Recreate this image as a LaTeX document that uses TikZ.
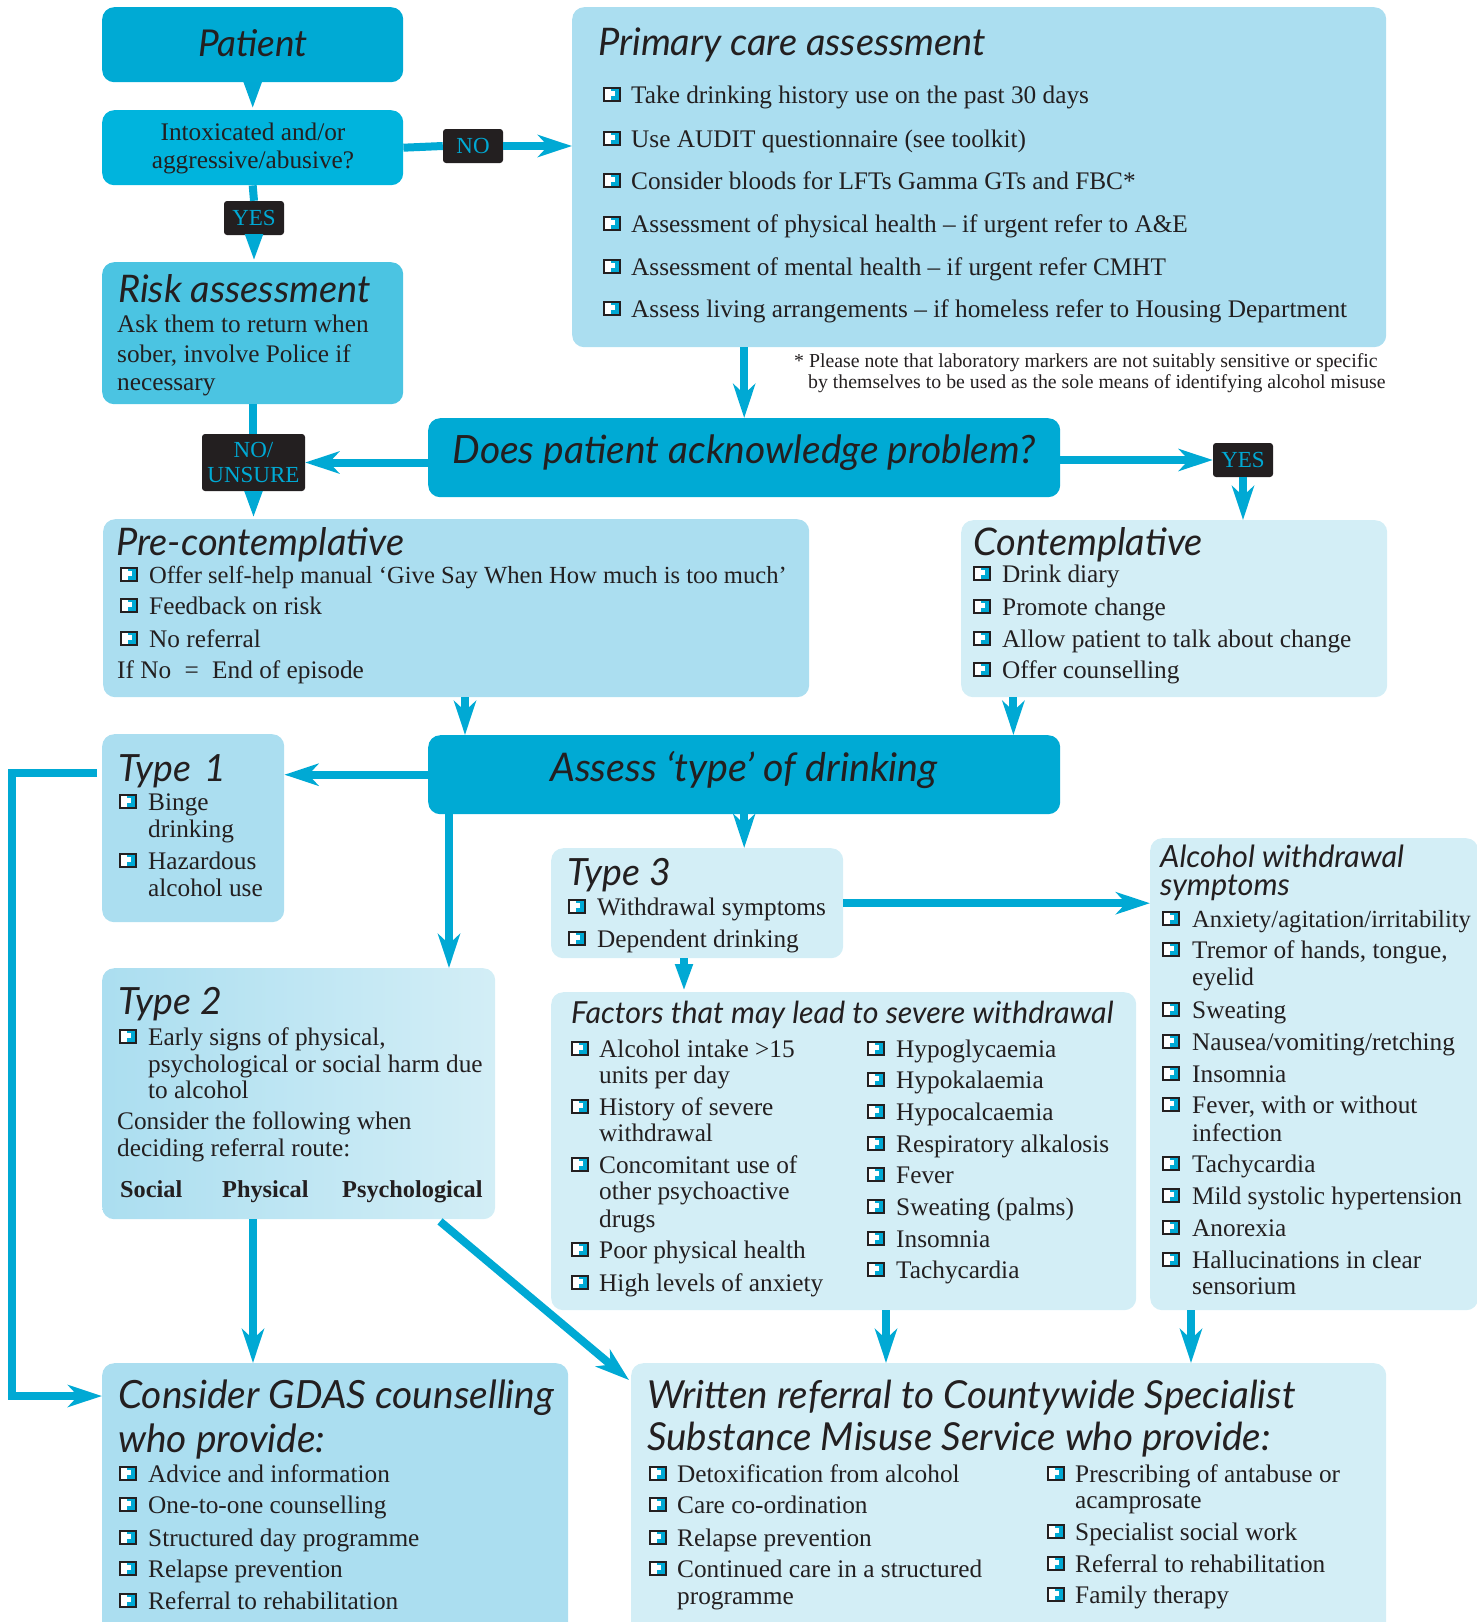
\documentclass[tikz,border=0pt]{standalone}
\usepackage{fontspec}
\setmainfont{Liberation Serif}
\newfontfamily\hdfont{Lato}
\usetikzlibrary{arrows.meta,calc}
\definecolor{deep}{HTML}{00AAD4}
\definecolor{mid}{HTML}{00B4DD}
\definecolor{riskc}{HTML}{4BC4E2}
\definecolor{light}{HTML}{ABDEF0}
\definecolor{pale}{HTML}{D3EEF6}
\definecolor{acol}{HTML}{00A9D4}
\definecolor{ink}{HTML}{231F20}
\newcounter{tn}
\newcommand\Tx[3]{\stepcounter{tn}\node[txt] (t\arabic{tn}) at (#1,#2) {#3};}
\newcommand\It[4]{\pic at (#1,#3) {bul}; \Tx{#2}{#3}{#4}}
\newcommand\Hd[4]{\stepcounter{tn}\node[hd, font=\hdfont\itshape\fontsize{#3}{#3}\selectfont] (t\arabic{tn}) at (#1,#2) {#4};}
\newcommand\Hc[4]{\stepcounter{tn}\node[hd, anchor=base, font=\hdfont\itshape\fontsize{#3}{#3}\selectfont] (t\arabic{tn}) at (#1,#2) {#4};}
\newcommand\sm[1]{{\fontsize{24.6}{28}\selectfont #1}}
\tikzset{
  box/.style={rounded corners=12pt, inner sep=0pt, anchor=north west, draw=none},
  txt/.style={anchor=base west, inner sep=0pt, text=ink, font=\fontsize{25.3}{28}\selectfont},
  hd/.style={anchor=base west, inner sep=0pt, text=ink},
  lbl/.style={fill=ink, text=acol, rounded corners=3pt, inner sep=0pt, align=center, font=\fontsize{23}{22}\selectfont},
  conn/.style={draw=acol, line width=8pt},
  arr/.style={conn, -{Stealth[length=34pt,width=22pt,inset=10pt]}},
  wedge/.style={conn, -{Triangle[length=28pt,width=16pt]}},
  bul/.pic={
    \fill[acol] (0,-15) rectangle (16,-2);
    \fill[white] (0,-15) rectangle (7,-2);
    \fill[white] (6,-12) rectangle (11,-7);
    \draw[ink, line width=1.3pt] (0,-15) rectangle (16,-2);
  }
}
\begin{document}
\begin{tikzpicture}[x=1pt,y=-1pt]
\useasboundingbox (0,0) rectangle (1477,1622);
\clip (0,0) rectangle (1477,1622);
% boxes
\node[box, fill=deep, minimum width=301, minimum height=75] (patient) at (102,7) {};
\node[box, fill=mid, minimum width=301, minimum height=75] (intox) at (102,110) {};
\node[box, fill=riskc, minimum width=301, minimum height=142] (risk) at (102,262) {};
\node[box, fill=light, minimum width=814, minimum height=340] (primary) at (572,7) {};
\node[box, fill=deep, minimum width=632, minimum height=79] (does) at (428,418) {};
\node[box, fill=light, minimum width=706, minimum height=178] (pre) at (103,519) {};
\node[box, fill=pale, minimum width=426, minimum height=177] (contem) at (961,520) {};
\node[box, fill=deep, minimum width=632, minimum height=79] (assess) at (428,735) {};
\node[box, fill=light, minimum width=182, minimum height=188] (type1) at (102,734) {};
\node[box, fill=pale, minimum width=292, minimum height=110] (type3) at (551,848) {};
\node[box, fill=pale, minimum width=328, minimum height=472] (alc) at (1150,838) {};
\node[box, left color=light, right color=pale, minimum width=393, minimum height=251] (type2) at (102,968) {};
\node[box, fill=pale, minimum width=585, minimum height=318] (factors) at (551,992) {};
\node[box, fill=light, minimum width=466, minimum height=290] (gdas) at (102,1363) {};
\node[box, fill=pale, minimum width=755, minimum height=290] (written) at (631,1363) {};
% labels
\node[lbl, minimum width=60, minimum height=34] (nolbl) at (473,146) {NO};
\node[lbl, minimum width=60, minimum height=34] (yes1) at (254,218) {YES};
\node[lbl, minimum width=103, minimum height=57] (nou) at (253.5,462.5) {NO/\\[3pt]UNSURE};
\node[lbl, minimum width=60, minimum height=34] (yes2) at (1243,460) {YES};
% helper coordinates
\coordinate (pa) at ($(assess.north west)+(37,0)$);
\coordinate (ca) at ($(assess.north east)+(-47,0)$);
\coordinate (at2) at ($(assess.south west)+(21,0)$);
\coordinate (tf) at ($(type3.south west)+(133,0)$);
\coordinate (t1l) at ($(type1.north west)+(-5,39)$);
\coordinate (lx) at (12,0);
\coordinate (g1) at ($(gdas.north west)+(0,33)$);
\coordinate (t2g) at ($(type2.south west)+(151,0)$);
\coordinate (t2w) at ($(type2.south west)+(338,2)$);
\coordinate (wr) at ($(written.north west)+(-2,17)$);
\coordinate (fw) at ($(factors.south west)+(335,0)$);
\coordinate (aw) at ($(alc.south west)+(41,0)$);
% connectors
\draw[wedge] (patient.south) -- (intox.north);
\draw[conn] (intox.east) -- (nolbl.west);
\draw[arr] (nolbl.east) -- (nolbl.east -| primary.west);
\draw[conn] (intox.south) -- (yes1.north);
\draw[wedge] (yes1.south) -- (yes1.south |- risk.north);
\draw[conn] (risk.south) -- (risk.south |- nou.north);
\draw[arr] (nou.east -| does.west) -- (nou.east);
\draw[wedge] (nou.south) -- (nou.south |- pre.north);
\draw[arr] (does.north |- primary.south) -- (does.north);
\draw[arr] (yes2.west -| does.east) -- (yes2.west);
\draw[arr] (yes2.south) -- (yes2.south |- contem.north);
\draw[arr] (pa |- pre.south) -- (pa);
\draw[arr] (ca |- contem.south) -- (ca);
\draw[arr] (assess.west) -- (assess.west -| type1.east);
\draw[arr] (at2) -- (at2 |- type2.north);
\draw[arr] (assess.south) -- (assess.south |- type3.north);
\draw[arr] (type3.east) -- (type3.east -| alc.west);
\draw[wedge] (tf) -- (tf |- factors.north);
\draw[arr] (t1l) -- (t1l -| lx) -- (g1 -| lx) -- (g1);
\draw[arr] (t2g) -- (t2g |- gdas.north);
\draw[arr] (t2w) -- (wr);
\draw[arr] (fw) -- (fw |- written.north);
\draw[arr] (aw) -- (aw |- written.north);
% Patient / intox / risk
\Hc{253}{56}{37}{Patient}
\stepcounter{tn}\node[txt, anchor=base] (t\arabic{tn}) at (253,140) {Intoxicated and/or};
\stepcounter{tn}\node[txt, anchor=base] (t\arabic{tn}) at (253,168) {aggressive/abusive?};
\Hd{118}{302}{38}{Risk assessment}
\Tx{117}{332}{Ask them to return when}
\Tx{117}{362}{sober, involve Police if}
\Tx{117}{390}{necessary}
% primary
\Hd{598}{55}{38}{Primary care assessment}
\It{604}{631}{103}{Take drinking history use on the past 30 days}
\It{604}{631}{147}{Use AUDIT questionnaire (see toolkit)}
\It{604}{631}{189}{Consider bloods for LFTs Gamma GTs and FBC*}
\It{604}{631}{232}{Assessment of physical health – if urgent refer to A\&E}
\It{604}{631}{275}{Assessment of mental health – if urgent refer CMHT}
\It{604}{631}{317}{Assess living arrangements – if homeless refer to Housing Department}
\stepcounter{tn}\node[txt, font=\fontsize{19.8}{20}\selectfont] (t\arabic{tn}) at (794,367) {* Please note that laboratory markers are not suitably sensitive or specific};
\stepcounter{tn}\node[txt, font=\fontsize{19.8}{20}\selectfont] (t\arabic{tn}) at (808,388) {by themselves to be used as the sole means of identifying alcohol misuse};
% does
\Hc{744}{463}{39}{Does patient acknowledge problem?}
% pre
\Hd{116}{555}{38}{Pre-contemplative}
\It{121}{149}{583}{\sm{Offer self-help manual ‘Give Say When How much is too much’}}
\It{121}{149}{614}{Feedback on risk}
\It{121}{149}{647}{No referral}
\Tx{117}{678}{If No\hspace{7pt} = \hspace{7pt}End of episode}
% contemplative
\Hd{973}{555}{38}{Contemplative}
\It{974}{1002}{582}{Drink diary}
\It{974}{1002}{615}{Promote change}
\It{974}{1002}{647}{Allow patient to talk about change}
\It{974}{1002}{678}{Offer counselling}
% assess
\Hc{744}{781}{39.5}{Assess ‘type’ of drinking}
% type 1
\Hd{118}{781}{37.5}{Type\,\,1}
\It{120}{148}{810}{Binge}
\Tx{148}{837}{drinking}
\It{120}{148}{869}{Hazardous}
\Tx{148}{896}{alcohol use}
% type 2
\Hd{118}{1014}{37.5}{Type 2}
\It{120}{148}{1045}{Early signs of physical,}
\Tx{148}{1072}{psychological or social harm due}
\Tx{148}{1098}{to alcohol}
\Tx{117}{1129}{Consider the following when}
\Tx{117}{1156}{deciding referral route:}
\Tx{120}{1197}{\fontsize{24.3}{28}\selectfont\bfseries Social}
\Tx{222}{1197}{\fontsize{24.3}{28}\selectfont\bfseries Physical}
\Tx{342}{1197}{\fontsize{24.3}{28}\selectfont\bfseries Psychological}
% type 3
\Hd{567}{885}{37.5}{Type 3}
\It{569}{597}{915}{Withdrawal symptoms}
\It{569}{597}{947}{Dependent drinking}
% factors
\Hd{571}{1023}{30.4}{Factors that may lead to severe withdrawal}
\It{572}{599}{1057}{Alcohol intake >15}
\Tx{599}{1083}{units per day}
\It{572}{599}{1115}{History of severe}
\Tx{599}{1141}{withdrawal}
\It{572}{599}{1173}{Concomitant use of}
\Tx{599}{1199}{other psychoactive}
\Tx{599}{1227}{drugs}
\It{572}{599}{1258}{Poor physical health}
\It{572}{599}{1291}{High levels of anxiety}
\It{868}{896}{1057}{Hypoglycaemia}
\It{868}{896}{1088}{Hypokalaemia}
\It{868}{896}{1120}{Hypocalcaemia}
\It{868}{896}{1152}{Respiratory alkalosis}
\It{868}{896}{1183}{Fever}
\It{868}{896}{1215}{Sweating (palms)}
\It{868}{896}{1247}{Insomnia}
\It{868}{896}{1278}{Tachycardia}
% alcohol withdrawal
\Hd{1160}{867}{30.6}{Alcohol withdrawal}
\Hd{1160}{895}{30.6}{symptoms}
\It{1163}{1192}{927}{\sm{Anxiety/agitation/irritability}}
\It{1163}{1192}{958}{Tremor of hands, tongue,}
\Tx{1192}{985}{eyelid}
\It{1163}{1192}{1018}{Sweating}
\It{1163}{1192}{1050}{Nausea/vomiting/retching}
\It{1163}{1192}{1082}{Insomnia}
\It{1163}{1192}{1113}{Fever, with or without}
\Tx{1192}{1141}{infection}
\It{1163}{1192}{1172}{Tachycardia}
\It{1163}{1192}{1204}{Mild systolic hypertension}
\It{1163}{1192}{1236}{Anorexia}
\It{1163}{1192}{1268}{Hallucinations in clear}
\Tx{1192}{1294}{sensorium}
% GDAS
\Hd{118}{1408}{38.9}{Consider GDAS counselling}
\Hd{118}{1452}{38.9}{who provide:}
\It{120}{148}{1482}{Advice and information}
\It{120}{148}{1513}{One-to-one counselling}
\It{120}{148}{1546}{Structured day programme}
\It{120}{148}{1577}{Relapse prevention}
\It{120}{148}{1609}{Referral to rehabilitation}
% written
\Hd{647}{1408}{38.6}{Written referral to Countywide Specialist}
\Hd{647}{1450}{38.6}{Substance Misuse Service who provide:}
\It{650}{677}{1482}{Detoxification from alcohol}
\It{650}{677}{1513}{Care co-ordination}
\It{650}{677}{1546}{Relapse prevention}
\It{650}{677}{1577}{Continued care in a structured}
\Tx{677}{1604}{programme}
\It{1048}{1075}{1482}{Prescribing of antabuse or}
\Tx{1075}{1508}{acamprosate}
\It{1048}{1075}{1540}{Specialist social work}
\It{1048}{1075}{1572}{Referral to rehabilitation}
\It{1048}{1075}{1603}{Family therapy}
\end{tikzpicture}
\end{document}
